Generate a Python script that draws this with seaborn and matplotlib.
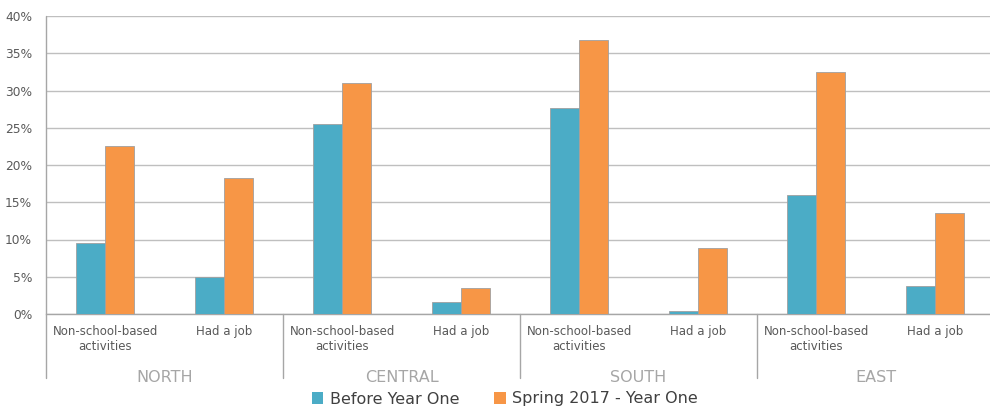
import matplotlib
matplotlib.use("Agg")
import matplotlib.pyplot as plt
import seaborn as sns
import pandas as pd
from matplotlib.ticker import PercentFormatter, MultipleLocator
from matplotlib.patches import Patch

regions = ["NORTH", "CENTRAL", "SOUTH", "EAST"]
measures = ["Non-school-based\nactivities", "Had a job"]
series = ["Before Year One", "Spring 2017 - Year One"]
before = [0.095, 0.050, 0.255, 0.016, 0.277, 0.004, 0.160, 0.038]
spring = [0.225, 0.183, 0.310, 0.035, 0.368, 0.088, 0.325, 0.135]
colors = ["#4BACC6", "#F79646"]

cats, labels = [], []
for r in regions:
    for m in measures:
        cats.append(f"{r}|{m}")
        labels.append(m)

df = pd.DataFrame({
    "cat": cats * 2,
    "value": before + spring,
    "series": [series[0]] * len(cats) + [series[1]] * len(cats),
})

sns.set_style("white")
plt.rcParams["font.family"] = ["DejaVu Sans"]

fig = plt.figure(figsize=(9.9, 4.08), dpi=100)
ax = fig.add_axes([46/990, 1-314/408, (994-46)/990, (314-16)/408])

sns.barplot(data=df, x="cat", y="value", hue="series", order=cats,
            hue_order=series, palette=colors, saturation=1, width=0.49, gap=0,
            edgecolor="#A0A0A0", linewidth=0.6, ax=ax, legend=False,
            zorder=3)

ax.set_xlim(-0.5, len(cats) - 0.5)
ax.set_ylim(0, 0.40)
ax.yaxis.set_major_locator(MultipleLocator(0.05))
ax.yaxis.set_major_formatter(PercentFormatter(1.0, decimals=0))
ax.grid(axis="y", color="#BFBFBF", linewidth=1.0, zorder=0)
ax.set_axisbelow(True)
for s in ["top", "right"]:
    ax.spines[s].set_visible(False)
ax.spines["left"].set_visible(False)
ax.spines["bottom"].set_color("#A6A6A6")
ax.spines["bottom"].set_linewidth(1.0)

ax.set_xlabel("")
ax.set_ylabel("")
ax.set_xticks(range(len(cats)))
ax.set_xticklabels(labels, fontsize=8.5, color="#595959", linespacing=1.2)
ax.tick_params(axis="x", length=0, pad=8)
ax.tick_params(axis="y", length=0, pad=10, labelsize=8.8, labelcolor="#595959")

trans = ax.get_xaxis_transform()
ext = -(378-314)/298
for i in range(len(regions)):
    xsep = i * 2 - 0.5
    ax.plot([xsep, xsep], [1.0 if i == 0 else 0, ext], transform=trans,
            color="#A6A6A6", linewidth=1.0, clip_on=False, zorder=5)
    ax.text(i * 2 + 0.5, -(377-314)/298, regions[i], transform=trans,
            ha="center", va="center", fontsize=11.5, color="#A6A6A6")

handles = [Patch(facecolor=c, edgecolor="none") for c in colors]
fig.legend(handles, series, loc="center", bbox_to_anchor=(0.51, 1-399/408),
           ncol=2, frameon=False, handlelength=0.7, handleheight=0.7,
           handletextpad=0.4, columnspacing=2.2,
           labelcolor="#404040", prop={"size": 11.5})

fig.savefig("out.png", dpi=100)
